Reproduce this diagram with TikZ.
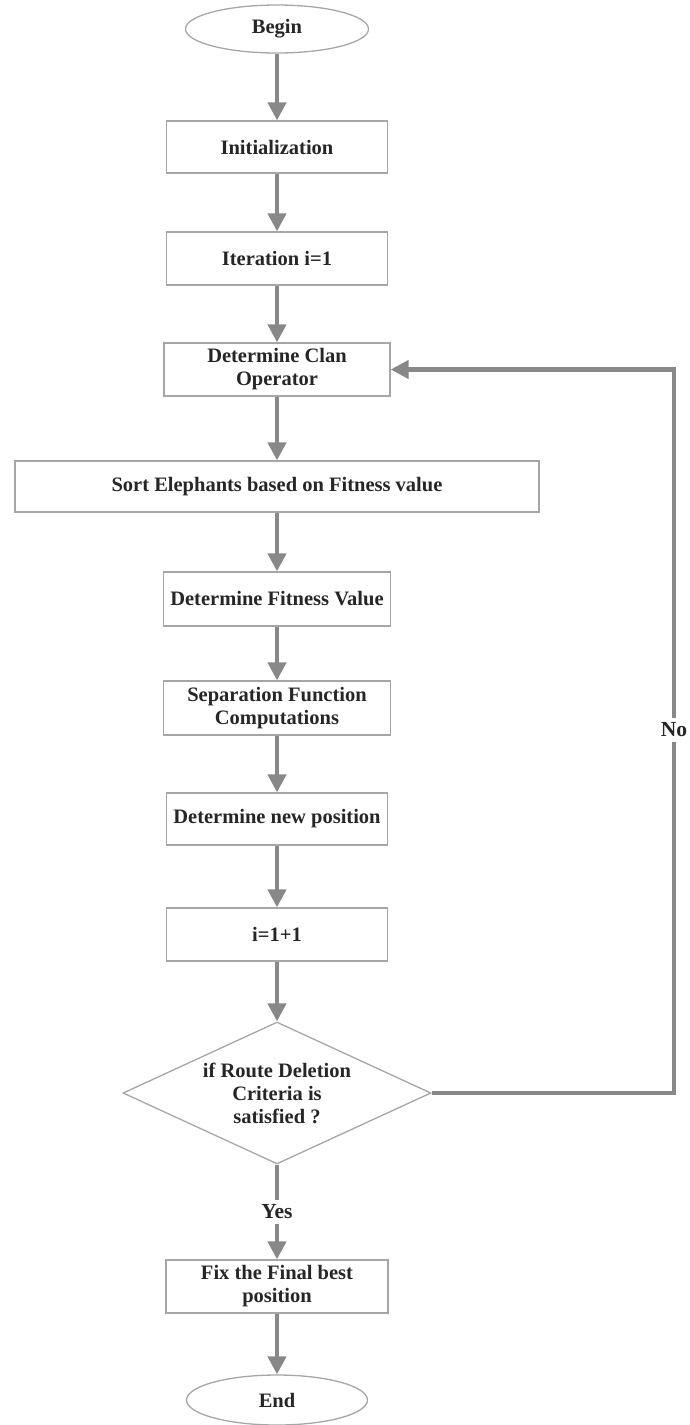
\documentclass[tikz,border=0pt]{standalone}
\usepackage{fontspec}
\setmainfont{Liberation Serif}
\usetikzlibrary{arrows.meta,shapes.geometric}
\definecolor{boxline}{HTML}{A6A6A6}
\definecolor{flow}{HTML}{888888}
\definecolor{ink}{HTML}{262626}
\begin{document}
\begin{tikzpicture}[x=1pt,y=-1pt,
  every node/.style={text=ink, font=\fontsize{20.5}{23}\selectfont\bfseries},
  procbox/.style={draw=boxline, line width=1.3pt, rectangle, inner sep=0pt,
    align=center, minimum height=53pt},
  terminal/.style={draw=boxline, line width=1.3pt, ellipse, inner sep=0pt},
  decision/.style={draw=boxline, line width=1.3pt, diamond, aspect=2.17,
    inner sep=0pt, align=center, minimum width=308pt, minimum height=142pt},
  flowline/.style={draw=flow, line width=4.2pt},
  flowarrow/.style={flowline, -{Triangle[length=18pt,width=18pt]}},
  tag/.style={fill=white, inner xsep=1pt, inner ysep=5pt,
    font=\fontsize{21.5}{24}\selectfont\bfseries}
]
\useasboundingbox (0,0) rectangle (689,1425);

% main column
\node[terminal, minimum width=183pt, minimum height=48pt] (begin) at (277,29) {Begin};
\node[procbox, minimum width=221pt, minimum height=52pt] (init) at (277,147) {Initialization};
\node[procbox, minimum width=221pt] (iter) at (277,258.5) {Iteration i=1};
\node[procbox, minimum width=226pt] (clan) at (277,369.5) {Determine Clan\\Operator};
\node[procbox, minimum width=524pt, minimum height=51pt] (sort) at (277,486.5) {Sort Elephants based on Fitness value};
\node[procbox, minimum width=227pt, minimum height=54pt] (fit) at (277,599) {Determine Fitness Value};
\node[procbox, minimum width=227pt, minimum height=54pt] (sep) at (277,708) {Separation Function\\Computations};
\node[procbox, minimum width=221pt, minimum height=52pt] (newpos) at (277,819) {Determine new position};
\node[procbox, minimum width=221pt] (incr) at (277,934.5) {i=1+1};
\node[decision] (cond) at (277,1093) {if Route Deletion\\Criteria is\\satisfied ?};
\node[procbox, minimum width=222pt] (fix) at (277,1286.5) {Fix the Final best\\position};
\node[terminal, minimum width=181pt, minimum height=50pt] (end) at (277,1400) {End};

% downward flow
\draw[flowarrow] (begin.south) -- (init.north);
\draw[flowarrow] (init.south) -- (iter.north);
\draw[flowarrow] (iter.south) -- (clan.north);
\draw[flowarrow] (clan.south) -- (sort.north);
\draw[flowarrow] (sort.south) -- (fit.north);
\draw[flowarrow] (fit.south) -- (sep.north);
\draw[flowarrow] (sep.south) -- (newpos.north);
\draw[flowarrow] (newpos.south) -- (incr.north);
\draw[flowarrow] (incr.south) -- (cond.north);
\draw[flowarrow] (cond.south) -- node[tag] (yes) {Yes} (fix.north);
\draw[flowarrow] (fix.south) -- (end.north);

% loop back when the criteria is not met
\coordinate (loop) at (674,0);
\draw[flowarrow] (cond.east) -- (cond.east -| loop) -- (clan.east -| loop) -- (clan.east);
\node[tag] (no) at (674,730) {No};
\end{tikzpicture}
\end{document}
